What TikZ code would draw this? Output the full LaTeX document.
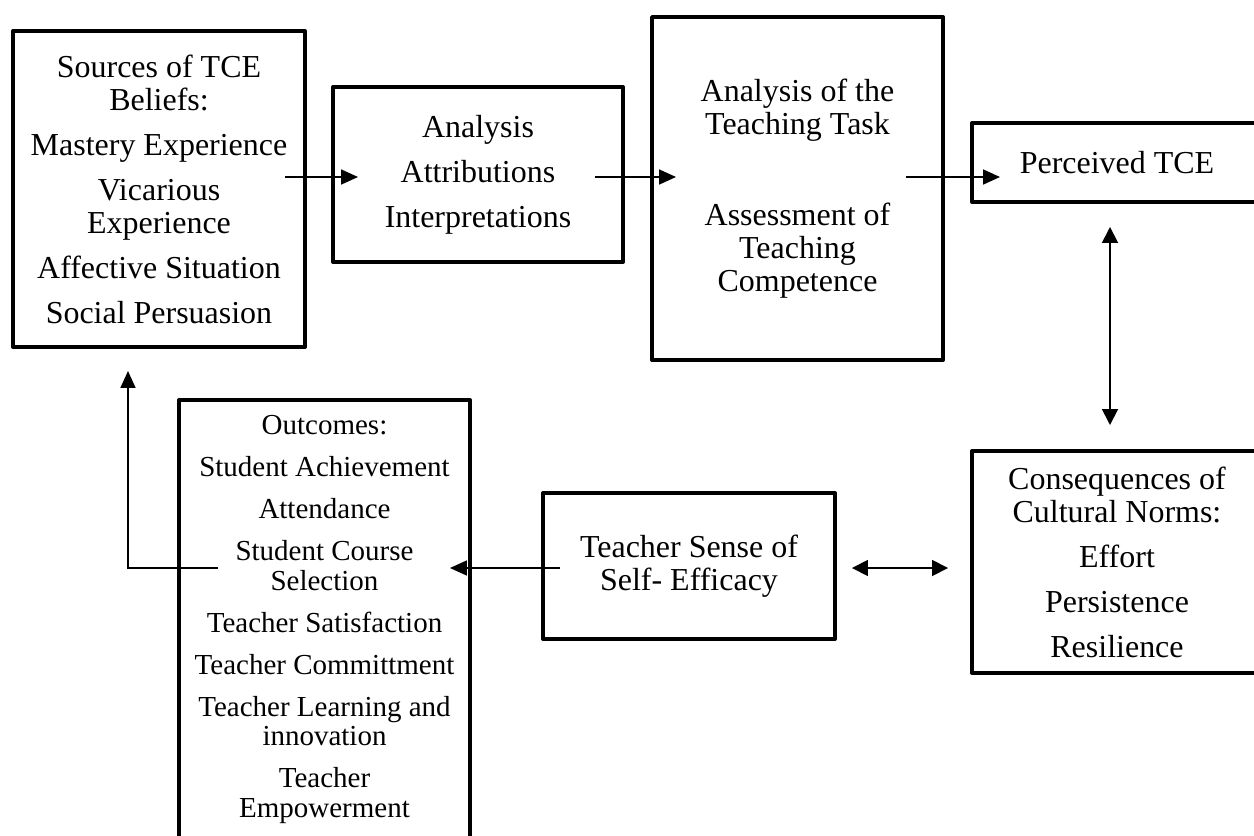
\documentclass[tikz,border=0pt]{standalone}
\usepackage{fontspec}
\setmainfont{Liberation Serif}
\usetikzlibrary{arrows.meta, calc}

\tikzset{
  box/.style = {draw, line width = 0.08cm, line join = round, align = center, inner sep = 0pt, font = \fontsize{18.2}{18.8}\selectfont},
  smallbox/.style = {box, font = \fontsize{16.5}{16.8}\selectfont},
  arr/.style = {line width = 0.035cm, -{Triangle[length = 0.34cm, width = 0.3cm]}},
  dblarr/.style = {line width = 0.035cm, {Triangle[length = 0.32cm, width = 0.32cm]}-{Triangle[length = 0.32cm, width = 0.32cm]}}
}

\begin{document}
\begin{tikzpicture}[x = 0.02cm, y = -0.02cm]
\useasboundingbox (0, 0) rectangle (1254, 835);

% top row
\node[box, minimum width = 5.84cm, minimum height = 6.32cm] (src) at (159, 189)
  {Sources of TCE\\Beliefs:\\[0.24cm] Mastery Experience\\[0.24cm] Vicarious\\Experience\\[0.24cm] Affective Situation\\[0.24cm] Social Persuasion};
\node[box, minimum width = 5.8cm, minimum height = 3.5cm] (ana) at (478, 174.5)
  {Analysis\\[0.24cm] Attributions\\[0.24cm] Interpretations};
\node[box, minimum width = 5.82cm, minimum height = 6.86cm] (tsk) at (797.5, 188.5)
  {Analysis of the\\Teaching Task\\[1.16cm] Assessment of\\Teaching\\Competence};
\node[box, minimum width = 5.8cm, minimum height = 1.58cm] (per) at (1117, 162.5) {Perceived TCE};

% bottom row
\node[box, minimum width = 5.8cm, minimum height = 4.44cm] (con) at (1117, 562)
  {Consequences of\\Cultural Norms:\\[0.24cm] Effort\\[0.24cm] Persistence\\[0.24cm] Resilience};
\node[box, minimum width = 5.84cm, minimum height = 2.92cm] (tse) at (689, 566)
  {Teacher Sense of\\Self- Efficacy};
\node[smallbox, minimum width = 5.82cm, minimum height = 8.78cm] (out) at (324.5, 619.5)
  {Outcomes:\\[0.25cm] Student Achievement\\[0.25cm] Attendance\\[0.25cm] Student Course\\Selection\\[0.25cm] Teacher Satisfaction\\[0.25cm] Teacher Committment\\[0.25cm] Teacher Learning and\\innovation\\[0.25cm] Teacher\\Empowerment};

\coordinate (row) at (0, 177);
\coordinate (low) at (0, 568);

% connectors
\draw[arr, shorten < = -0.44cm, shorten > = -0.54cm] (src.east |- row) -- (ana.west |- row);
\draw[arr, shorten < = -0.6cm, shorten > = -0.52cm] (ana.east |- row) -- (tsk.west |- row);
\draw[arr, shorten < = -0.78cm, shorten > = -0.6cm] (tsk.east |- row) -- (per.west |- row);
\draw[dblarr, shorten < = 0.46cm, shorten > = 0.48cm] ([xshift = -0.14cm]per.south) -- ([xshift = -0.14cm]con.north);
\draw[dblarr, shorten < = 0.3cm, shorten > = 0.44cm] (tse.east |- low) -- (con.west |- low);
\draw[arr, shorten < = -0.38cm, shorten > = -0.44cm] (tse.west |- low) -- (out.east |- low);
\draw[arr, shorten > = 0.44cm] ($(out.west |- low) + (41, 0)$) -| ($(src.south) + (-31, 0)$);
\end{tikzpicture}
\end{document}
